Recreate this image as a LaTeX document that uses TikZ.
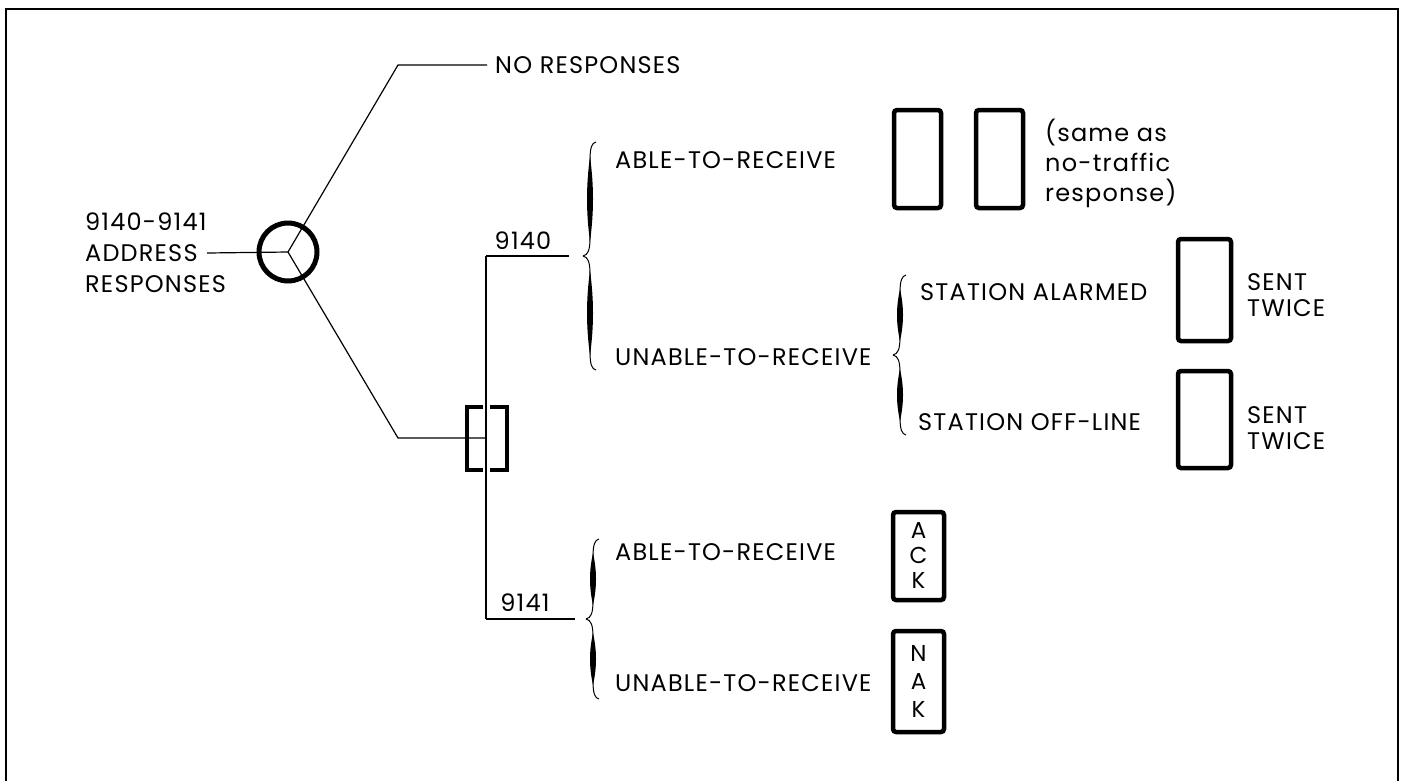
\documentclass[tikz,border=0pt]{standalone}
\usepackage{fontspec}
\setmainfont{Poppins}[LetterSpace=5]
\usetikzlibrary{positioning}

\tikzset{
  lbl/.style={anchor=west,inner sep=0pt,font=\fontsize{24}{31}\selectfont},
  resp/.style={draw,line width=4.5pt,rounded corners=3pt,inner sep=0pt,
    align=center,font=\fontsize{23}{25}\selectfont},
  conn/.style={line width=1.2pt},
  bracket/.style={line width=4pt},
  pics/curly/.style={code={
    \foreach \s in {1,-1}{
      \begin{scope}[yscale=\s]
      \draw[line width=1pt] (0,0) .. controls (5,-1) and (7,-6) .. (7,-18)
        -- (7,-#1+18) .. controls (7,-#1+5) and (9,-#1+1) .. (13,-#1);
      \fill (7,-14) .. controls (3,-#1*0.4) and (3,-#1*0.6) .. (7,-#1+14)
        .. controls (11,-#1*0.6) and (11,-#1*0.4) .. (7,-14) -- cycle;
      \end{scope}}
  }}
}

\begin{document}
\begin{tikzpicture}[x=1pt,y=-1pt]
\useasboundingbox (0,0) rectangle (1405,780);
\draw[line width=2.5pt] (6,790) -- (6,9) -- (1398,9) -- (1398,790);

% junction
\node[circle,draw,line width=5pt,minimum size=58pt,inner sep=0pt] (hub) at (288,252) {};
\node[lbl,align=left] (addr) at (85,253) {9140-9141\\ADDRESS\\RESPONSES};
\coordinate (addrend) at (207,253);
\draw[conn] (addrend) -- (hub.center);

\node[lbl] (norsp) at (495,65) {NO RESPONSES};
\coordinate (upbend) at (398,65);
\draw[conn,shorten >=8pt] (hub.center) -- (upbend) -- (norsp.west);

% terminal type
\coordinate (lowbend) at (398,438);
\coordinate (tee) at (486,438);
\coordinate (t40) at (486,256);
\coordinate (t41) at (486,619);
\draw[conn] (hub.center) -- (lowbend) -- (tee);
\draw[conn] (t40) -- (t41);
\draw[bracket] (483,407) -| (467,470) -- (483,470);
\draw[bracket] (490,407) -| (507,470) -- (490,470);

\coordinate (br40) at (583,256);
\coordinate (br41) at (586,619);
\draw[conn,shorten >=14pt] (t40) -- (br40);
\draw[conn,shorten >=11pt] (t41) -- (br41);
\node[lbl,anchor=center] (n40) at (523,241) {9140};
\node[lbl,anchor=center] (n41) at (525,603) {9141};
\pic at (br40) {curly=114};
\pic at (br41) {curly=80};

% 9140 responses
\node[lbl] (able40) at (615,160) {ABLE-TO-RECEIVE};
\node[lbl] (unable40) at (615,357) {UNABLE-TO-RECEIVE};
\node[resp,minimum width=47pt,minimum height=98pt] (ntr1) at (917.5,159) {};
\node[resp,minimum width=47pt,minimum height=98pt] (ntr2) at (999.5,159) {};
\node[lbl,align=left,font=\fontsize{24}{30}\selectfont] (same) at (1045,163) {(same as\\no-traffic\\response)};

\coordinate (brst) at (893,355);
\pic at (brst) {curly=80};
\node[lbl] (alarm) at (920,292) {STATION ALARMED};
\node[lbl] (offl) at (918,422) {STATION OFF-LINE};
\node[resp,minimum width=53pt,minimum height=102pt] (salarm) at (1204.5,290) {};
\node[resp,minimum width=53pt,minimum height=97pt] (soffl) at (1204.5,419.5) {};
\node[lbl,align=left,font=\fontsize{24}{26}\selectfont] (tw1) at (1247,295) {SENT\\TWICE};
\node[lbl,align=left,font=\fontsize{24}{26}\selectfont] (tw2) at (1247,428) {SENT\\TWICE};

% 9141 responses
\node[lbl] (able41) at (615,552) {ABLE-TO-RECEIVE};
\node[lbl] (unable41) at (615,683) {UNABLE-TO-RECEIVE};
\node[resp,minimum width=51pt,minimum height=88pt] (ack) at (918.5,556) {A\\C\\K};
\node[resp,minimum width=51pt,minimum height=101pt,font=\fontsize{23}{28}\selectfont] (nak) at (918.5,681.5) {N\\A\\K};
\end{tikzpicture}
\end{document}
